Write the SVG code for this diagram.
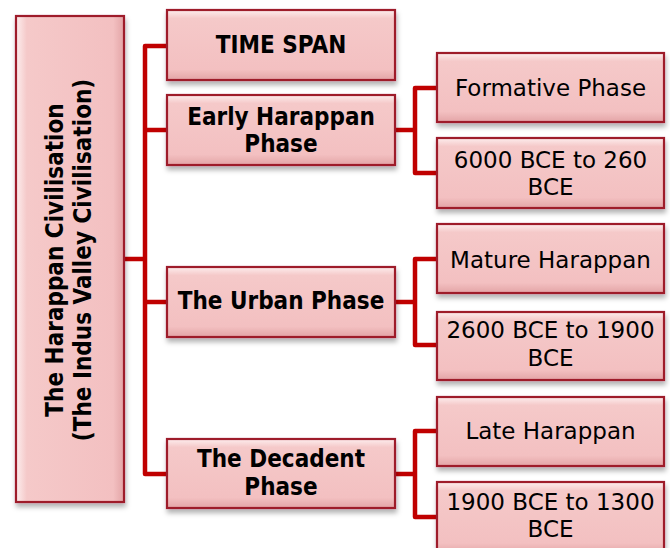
<svg xmlns="http://www.w3.org/2000/svg" width="670" height="548" viewBox="0 0 670 548">
<defs>
<linearGradient id="bev" x1="0" y1="0" x2="0" y2="1">
<stop offset="0" stop-color="#fdeeee"/>
<stop offset="0.12" stop-color="#f5c9c9"/>
<stop offset="0.85" stop-color="#f3c0c1"/>
<stop offset="1" stop-color="#e3a4a6"/>
</linearGradient>
<linearGradient id="bevv" x1="0" y1="0" x2="1" y2="0">
<stop offset="0" stop-color="#fdeeee"/>
<stop offset="0.1" stop-color="#f5c9c9"/>
<stop offset="0.9" stop-color="#f3c0c1"/>
<stop offset="1" stop-color="#e3a4a6"/>
</linearGradient>
<filter id="sh" x="-10%" y="-10%" width="120%" height="130%">
<feDropShadow dx="1" dy="4" stdDeviation="2.5" flood-color="#000" flood-opacity="0.3"/>
</filter>
</defs>
<style>
.box{fill:url(#bev);stroke:#9e1b2b;stroke-width:2.2;filter:url(#sh)}
.vbox{fill:url(#bevv);stroke:#9e1b2b;stroke-width:2.2;filter:url(#sh)}
.b{font-family:'DejaVu Sans Condensed','DejaVu Sans',sans-serif;font-stretch:condensed;font-weight:bold;font-size:24px;fill:#000;text-anchor:middle}
.r{font-family:'DejaVu Sans',sans-serif;font-size:23px;fill:#000;text-anchor:middle}
.c{fill:none;stroke:#c00000;stroke-width:4.5;stroke-linejoin:round}
</style>
<rect width="670" height="548" fill="#fff"/>
<g id="connectors">
<path class="c" d="M124,259 H145"/>
<path class="c" d="M167,46 H145 V474 H167"/>
<path class="c" d="M145,130 H167"/>
<path class="c" d="M145,302 H167"/>
<path class="c" d="M395,130 H415"/>
<path class="c" d="M437,88 H415 V173 H437"/>
<path class="c" d="M395,302 H415"/>
<path class="c" d="M437,259 H415 V345 H437"/>
<path class="c" d="M395,474 H415"/>
<path class="c" d="M437,431 H415 V517 H437"/>
</g>
<g id="root">
<rect class="vbox" x="16" y="16" width="108" height="486"/>
<text class="b" transform="rotate(-90 70 260)"><tspan x="70" y="253">The Harappan Civilisation</tspan><tspan x="70" y="281">(The Indus Valley Civilisation)</tspan></text>
</g>
<g id="timespan">
<rect class="box" x="167" y="10" width="228" height="70"/>
<text class="b" x="281" y="53">TIME SPAN</text>
</g>
<g id="early">
<rect class="box" x="167" y="95" width="228" height="70"/>
<text class="b" x="281" y="125">Early Harappan</text>
<text class="b" x="281" y="152">Phase</text>
</g>
<g id="urban">
<rect class="box" x="167" y="267" width="228" height="70"/>
<text class="b" x="281" y="309">The Urban Phase</text>
</g>
<g id="decadent">
<rect class="box" x="167" y="439" width="228" height="69"/>
<text class="b" x="281" y="467">The Decadent</text>
<text class="b" x="281" y="495">Phase</text>
</g>
<g id="formative">
<rect class="box" x="437" y="53" width="227" height="69"/>
<text class="r" x="550.5" y="96">Formative Phase</text>
</g>
<g id="early-dates">
<rect class="box" x="437" y="138" width="227" height="70"/>
<text class="r" x="550.5" y="168">6000 BCE to 260</text>
<text class="r" x="550.5" y="195">BCE</text>
</g>
<g id="mature">
<rect class="box" x="437" y="224" width="227" height="69"/>
<text class="r" x="550.5" y="268">Mature Harappan</text>
</g>
<g id="mature-dates">
<rect class="box" x="437" y="312" width="227" height="68"/>
<text class="r" x="550.5" y="338">2600 BCE to 1900</text>
<text class="r" x="550.5" y="366">BCE</text>
</g>
<g id="late">
<rect class="box" x="437" y="397" width="227" height="69"/>
<text class="r" x="550.5" y="439">Late Harappan</text>
</g>
<g id="late-dates">
<rect class="box" x="437" y="482" width="227" height="72"/>
<text class="r" x="550.5" y="510">1900 BCE to 1300</text>
<text class="r" x="550.5" y="537">BCE</text>
</g>
</svg>
